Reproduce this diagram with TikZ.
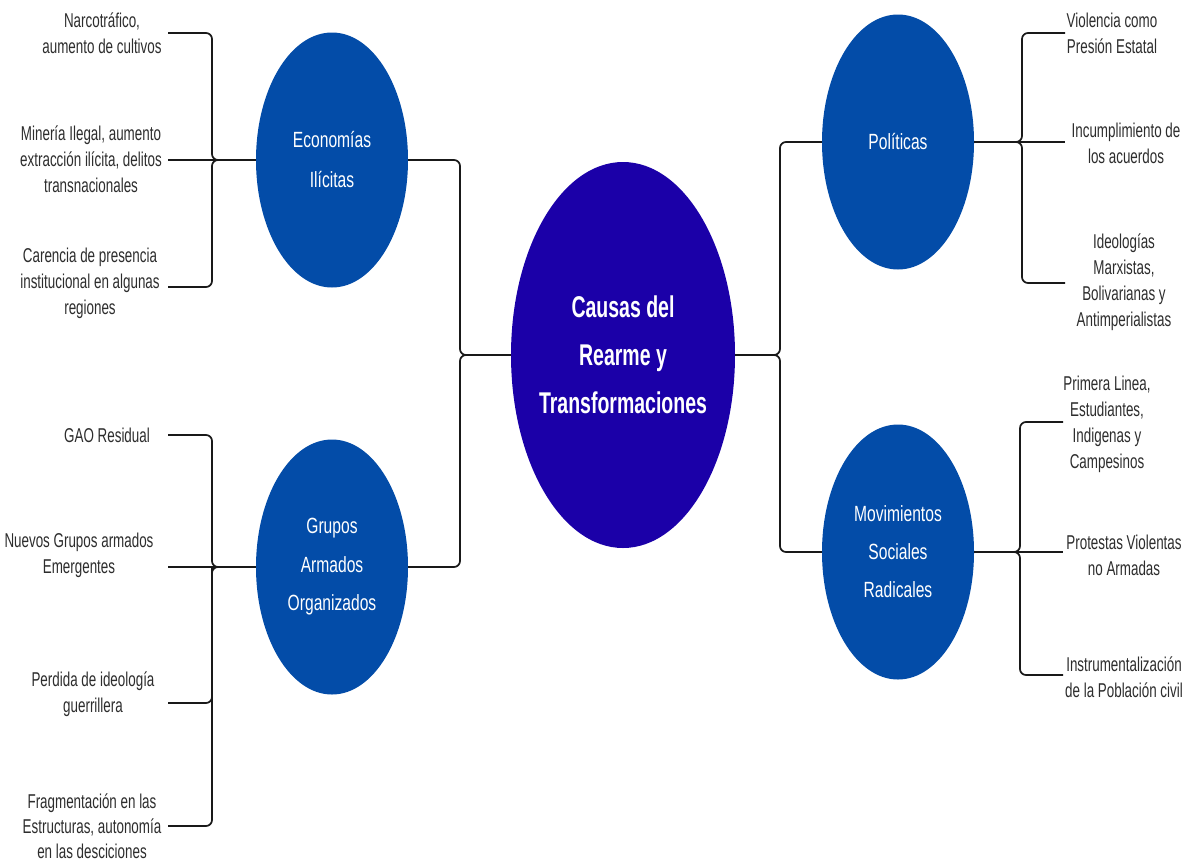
\documentclass[tikz,border=0pt]{standalone}
\usepackage{fontspec}
\setmainfont{Liberation Sans}
\newfontfamily\leaffnt[FakeStretch=0.67]{Liberation Sans}
\newfontfamily\subfnt[FakeStretch=0.71]{Liberation Sans}
\newfontfamily\centerfnt[FakeStretch=0.65]{Liberation Sans}
\usetikzlibrary{shapes.geometric}
\definecolor{subblue}{RGB}{3,76,168}
\definecolor{mainviolet}{RGB}{27,0,168}
\definecolor{leafgray}{RGB}{45,45,45}
\definecolor{linegray}{RGB}{25,25,25}
\tikzset{
  conn/.style={draw=linegray, line width=1.7pt, rounded corners=6pt},
  leaf/.style={text=leafgray, align=center, inner sep=0pt, font=\leaffnt\fontsize{20}{26}\selectfont},
  subnode/.style={ellipse, fill=subblue, draw=none, minimum width=152pt, minimum height=255pt, inner sep=0pt, text=white, align=center},
  mainnode/.style={ellipse, fill=mainviolet, draw=none, minimum width=224pt, minimum height=386pt, inner xsep=-40pt, inner ysep=0pt, text=white, align=center, font=\centerfnt\bfseries\fontsize{30}{48}\selectfont}
}
\begin{document}
\begin{tikzpicture}[x=1pt,y=-1pt]
\useasboundingbox (0,0) rectangle (1188,863);
\fill[white] (0,0) rectangle (1188,863);

% central and main nodes
\node[mainnode] (main) at (623,355) {Causas del\\Rearme y\\Transformaciones};
\node[subnode, font=\subfnt\fontsize{22}{40}\selectfont] (econ) at (332,160) {Economías\\Ilícitas};
\node[subnode, font=\subfnt\fontsize{22}{38.5}\selectfont] (grupos) at (332,567) {Grupos\\Armados\\Organizados};
\node[subnode, font=\subfnt\fontsize{22}{38}\selectfont] (pol) at (898,142) {Políticas};
\node[subnode, font=\subfnt\fontsize{22}{38}\selectfont] (mov) at (898,552) {Movimientos\\Sociales\\Radicales};

% leaf texts
\node[leaf] (l1) at (102,33) {Narcotráfico,\\aumento de cultivos};
\node[leaf] (l2) at (91,159) {Minería Ilegal, aumento\\extracción ilícita, delitos\\transnacionales};
\node[leaf] (l3) at (90,283) {Carencia de presencia\\institucional en algunas\\regiones};
\node[leaf] (l4) at (107,435) {GAO Residual};
\node[leaf] (l5) at (79,555) {Nuevos Grupos armados\\Emergentes};
\node[leaf] (l6) at (93,694) {Perdida de ideología\\guerrillera};
\node[leaf, font=\leaffnt\fontsize{20}{25}\selectfont] (l7) at (92,826) {Fragmentación en las\\Estructuras, autonomía\\en las desciciones};
\node[leaf] (r1) at (1112,33) {Violencia como\\Presión Estatal};
\node[leaf] (r2) at (1126,143) {Incumplimiento de\\los acuerdos};
\node[leaf] (r3) at (1124,282) {Ideologías\\Marxistas,\\Bolivarianas y\\Antimperialistas};
\node[leaf] (r4) at (1107,424) {Primera Linea,\\Estudiantes,\\Indigenas y\\Campesinos};
\node[leaf] (r5) at (1124,555) {Protestas Violentas\\no Armadas};
\node[leaf] (r6) at (1124,677) {Instrumentalización\\de la Población civil};

% stub end coordinates
\coordinate (e1) at (168,33);
\coordinate (e2) at (168,160);
\coordinate (e3) at (168,287);
\coordinate (g1) at (168,435);
\coordinate (g2) at (168,567);
\coordinate (g3) at (168,703);
\coordinate (g4) at (168,826);
\coordinate (p1) at (1065,33);
\coordinate (p2) at (1065,142);
\coordinate (p3) at (1065,283);
\coordinate (m1) at (1063,422);
\coordinate (m2) at (1063,552);
\coordinate (m3) at (1063,675);

% center connectors
\draw[conn] (econ.east) -- (460,160) -- (460,355) -- (main.west);
\draw[conn] (grupos.east) -- (460,567) -- (460,355) -- (main.west);
\draw[conn] (main.east) -- (780,355) -- (780,142) -- (pol.west);
\draw[conn] (main.east) -- (780,355) -- (780,552) -- (mov.west);

% economías leaves
\draw[conn] (e1) -- (212,33) -- (212,160) -- (econ.west);
\draw[conn] (e3) -- (212,287) -- (212,160) -- (econ.west);
\draw[conn] (e2) -- (econ.west);

% grupos leaves
\draw[conn] (g1) -- (212,435) -- (212,567) -- (grupos.west);
\draw[conn] (g4) -- (212,826) -- (212,567) -- (grupos.west);
\draw[conn] (212,567) -- (212,703) -- (g3);
\draw[conn] (g2) -- (grupos.west);

% políticas leaves
\draw[conn] (pol.east) -- (1022,142) -- (1022,33) -- (p1);
\draw[conn] (pol.east) -- (1022,142) -- (1022,283) -- (p3);
\draw[conn] (pol.east) -- (p2);

% movimientos leaves
\draw[conn] (mov.east) -- (1020,552) -- (1020,422) -- (m1);
\draw[conn] (mov.east) -- (1020,552) -- (1020,675) -- (m3);
\draw[conn] (mov.east) -- (m2);
\end{tikzpicture}
\end{document}
